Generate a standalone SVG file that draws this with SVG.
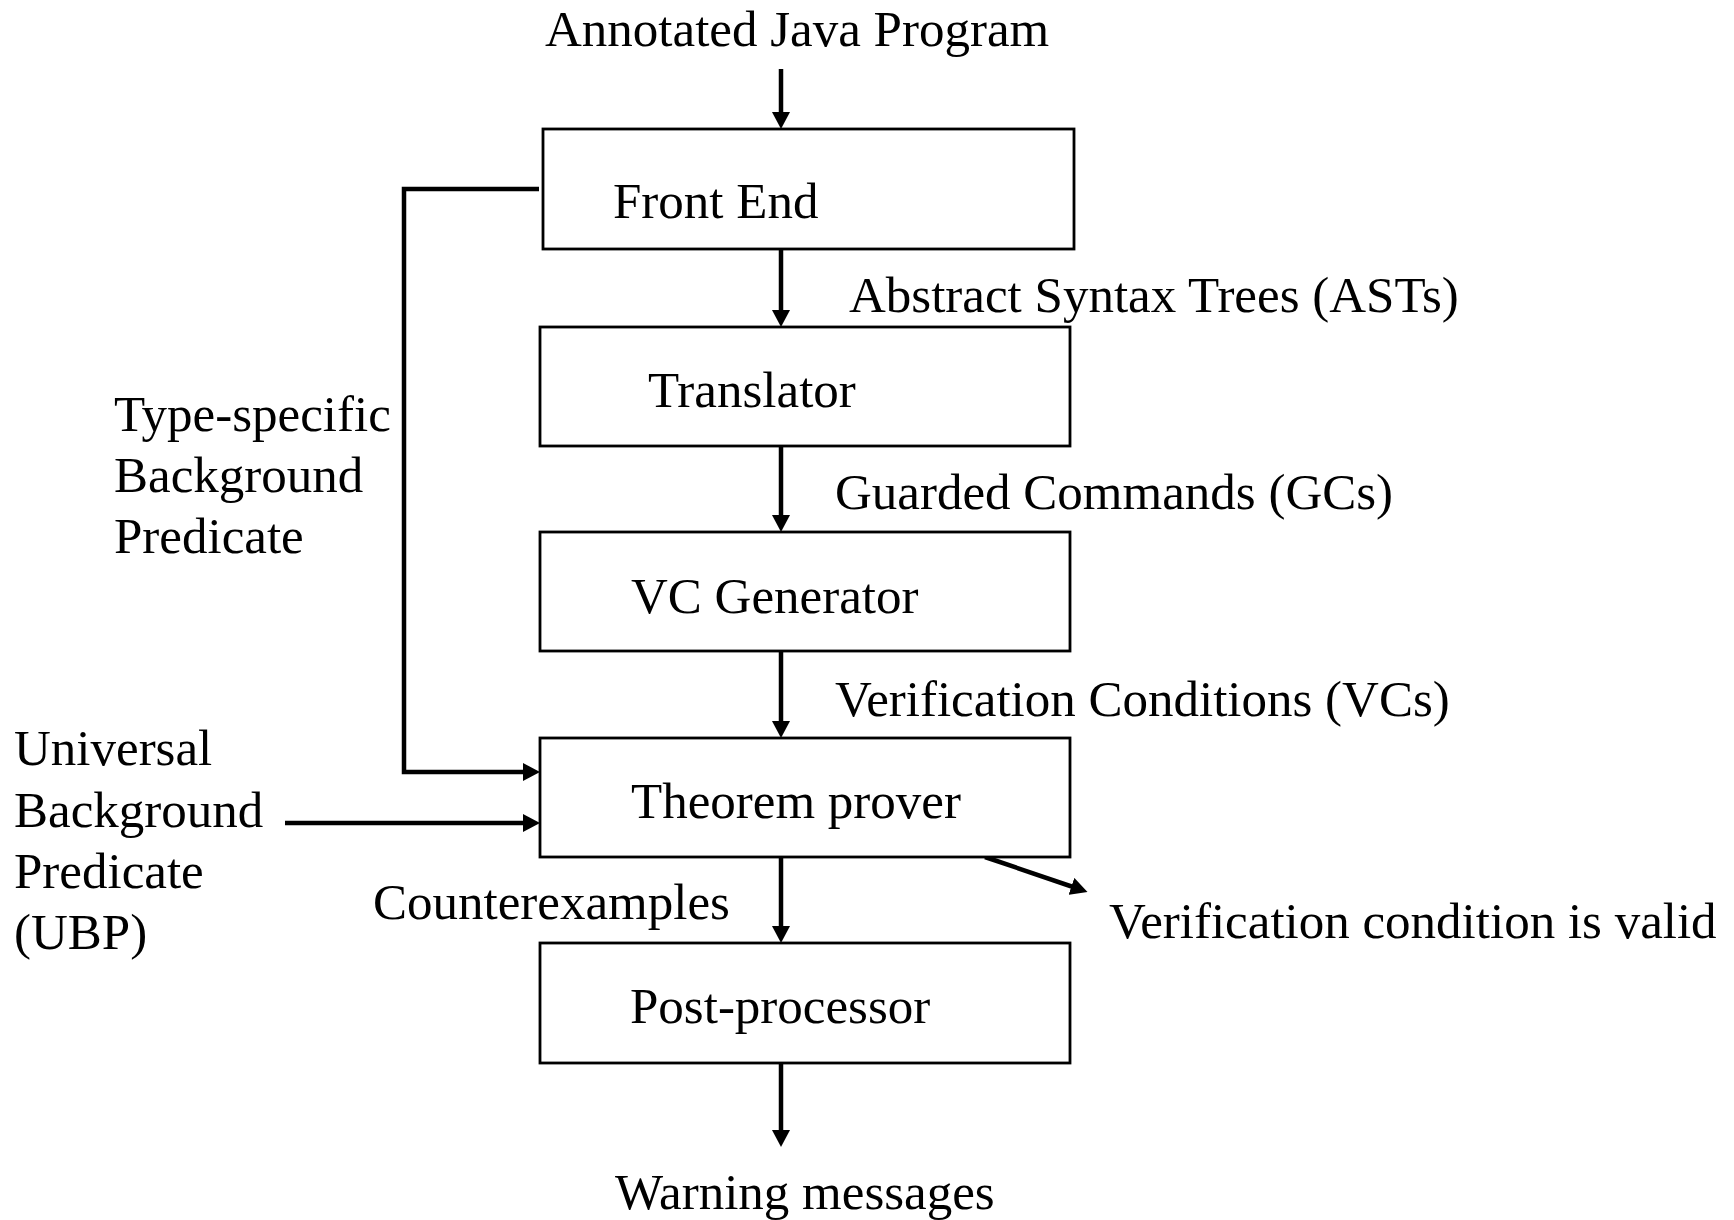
<svg xmlns="http://www.w3.org/2000/svg" width="1734" height="1220" viewBox="0 0 1734 1220">
<defs>
<style>
text{font-family:"Liberation Serif","Times New Roman",serif;font-size:51px;fill:#000}
.box{fill:#fff;stroke:#000;stroke-width:2.8}
.ln{fill:none;stroke:#000;stroke-width:4.5}
.thick{fill:none;stroke:#000;stroke-width:4.5}
</style>
<marker id="ah" viewBox="0 0 17 18" refX="8" refY="9" markerWidth="17" markerHeight="18" markerUnits="userSpaceOnUse" orient="auto">
<path d="M0,0 L17,9 L0,18 z" fill="#000"/>
</marker>
</defs>
<rect width="1734" height="1220" fill="#fff"/>
<g id="connectors">
<line class="ln" x1="781" y1="69" x2="781" y2="120" marker-end="url(#ah)"/>
<line class="ln" x1="781" y1="249" x2="781" y2="318" marker-end="url(#ah)"/>
<line class="ln" x1="781" y1="446" x2="781" y2="523" marker-end="url(#ah)"/>
<line class="ln" x1="781" y1="651" x2="781" y2="729" marker-end="url(#ah)"/>
<line class="ln" x1="781" y1="857" x2="781" y2="934" marker-end="url(#ah)"/>
<line class="ln" x1="781" y1="1063" x2="781" y2="1138" marker-end="url(#ah)"/>
<polyline class="thick" points="539,189 404,189 404,772 531,772" marker-end="url(#ah)"/>
<line class="thick" x1="285" y1="823" x2="531" y2="823" marker-end="url(#ah)"/>
<line class="ln" x1="985" y1="857" x2="1079" y2="889" marker-end="url(#ah)"/>
</g>
<g id="front-end"><rect class="box" x="543" y="129" width="531" height="120"/><text x="613" y="218">Front End</text></g>
<g id="translator"><rect class="box" x="540" y="327" width="530" height="119"/><text x="648" y="407">Translator</text></g>
<g id="vc-generator"><rect class="box" x="540" y="532" width="530" height="119"/><text x="631" y="613">VC Generator</text></g>
<g id="theorem-prover"><rect class="box" x="540" y="738" width="530" height="119"/><text x="631" y="818">Theorem prover</text></g>
<g id="post-processor"><rect class="box" x="540" y="943" width="530" height="120"/><text x="630" y="1023">Post-processor</text></g>
<g id="labels">
<text x="545" y="46">Annotated Java Program</text>
<text x="849" y="312">Abstract Syntax Trees (ASTs)</text>
<text x="835" y="509">Guarded Commands (GCs)</text>
<text x="835" y="716">Verification Conditions (VCs)</text>
<text x="373" y="919">Counterexamples</text>
<text x="1109" y="938">Verification condition is valid</text>
<text x="615" y="1209">Warning messages</text>
<text x="114" y="431">Type-specific</text>
<text x="114" y="492">Background</text>
<text x="114" y="553">Predicate</text>
<text x="14" y="765">Universal</text>
<text x="14" y="827">Background</text>
<text x="14" y="888">Predicate</text>
<text x="14" y="949">(UBP)</text>
</g>
</svg>
